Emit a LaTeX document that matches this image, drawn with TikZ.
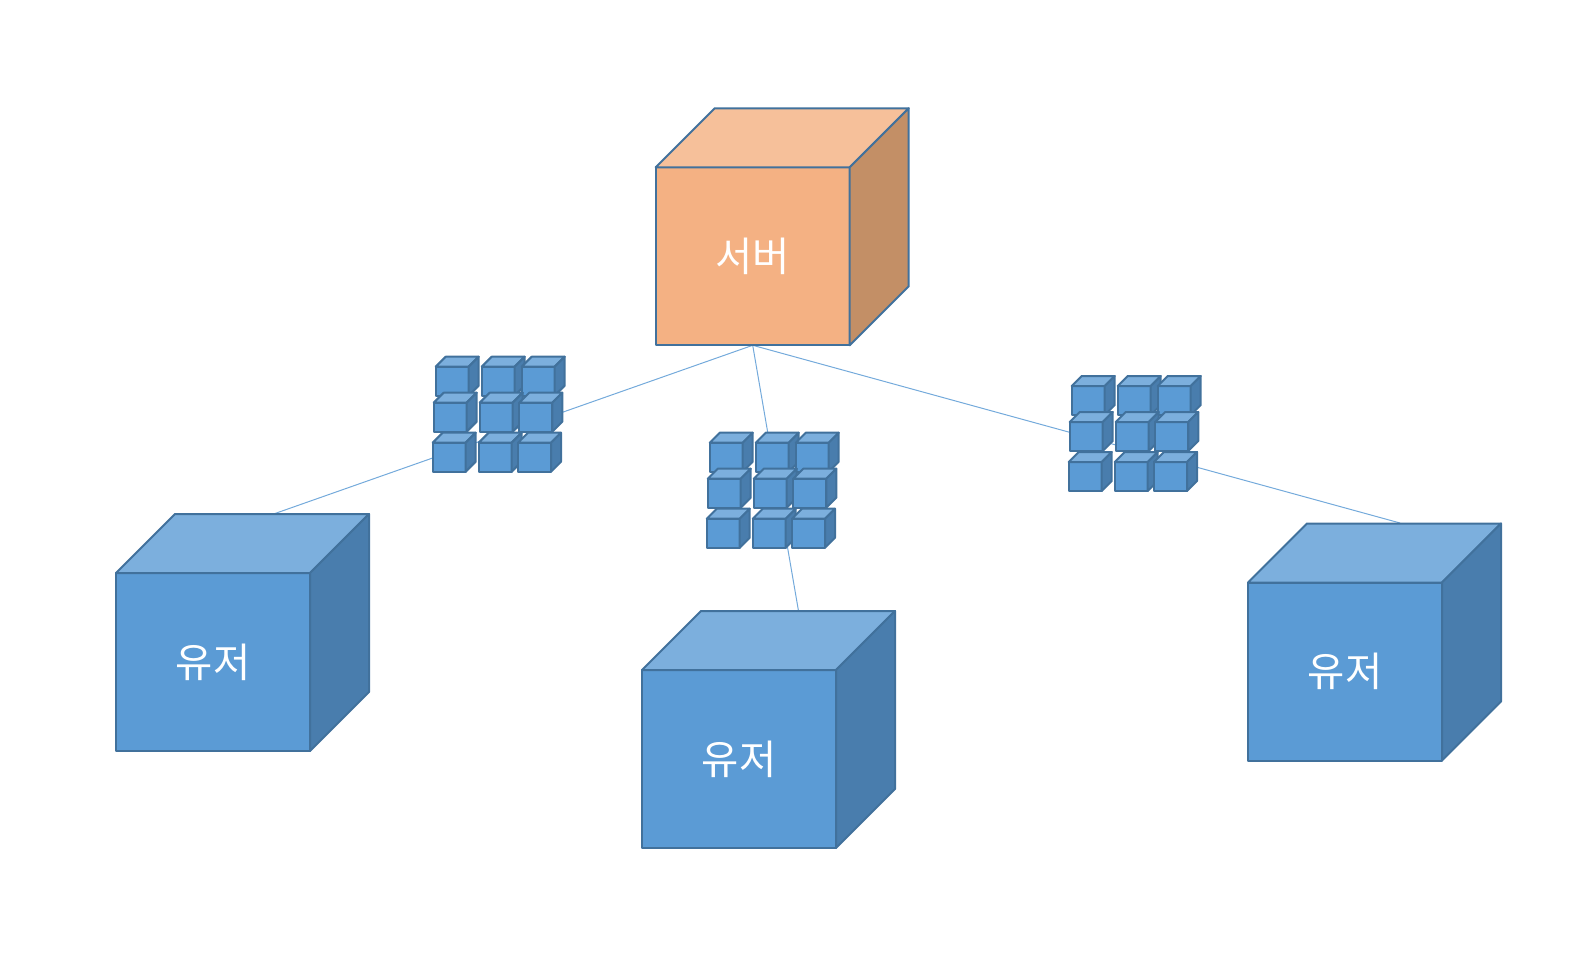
\documentclass[tikz,border=0pt]{standalone}
\usepackage{fontspec}
\newfontfamily\korfont{Noto Sans CJK KR}
\usetikzlibrary{backgrounds}
\definecolor{bluefront}{HTML}{5B9BD5}
\definecolor{bluetop}{HTML}{7CAFDD}
\definecolor{blueside}{HTML}{497DAD}
\definecolor{orangefront}{HTML}{F4B183}
\definecolor{orangetop}{HTML}{F6C09A}
\definecolor{orangeside}{HTML}{C38F66}
\definecolor{cubeline}{HTML}{41719C}
\tikzset{
    cubeface/.style={draw=cubeline, line width=2pt, line join=round, rectangle, anchor=north west,
        inner sep=0pt, outer sep=0pt, text=white, font=\korfont\fontsize{40.5}{44}\selectfont},
    cubeedge/.style={draw=cubeline, line width=2pt, line join=round},
    wire/.style={draw=bluefront!85, line width=1pt}
}
% colour, name, x, y, width, height, depth, text
\newcommand{\drawcube}[8]{
    \node[cubeface, fill=#1front, minimum width=#5pt, minimum height=#6pt] (#2) at (#3,#4) {#8};
    \path[cubeedge, fill=#1top] (#2.north west) -- ++(#7,-#7) -- ++(#5,0) -- (#2.north east) -- cycle;
    \path[cubeedge, fill=#1side] (#2.north east) -- ++(#7,-#7) -- ++(0,#6) -- (#2.south east) -- cycle;
}
\begin{document}
\begin{tikzpicture}[x=1pt, y=-1pt]
    \useasboundingbox (0,0) rectangle (1594,976);
    % big cubes
    \drawcube{orange}{srv}{655.7}{167.3}{194}{178}{59}{서버}
    \drawcube{blue}{usrl}{116}{573}{194}{178}{59}{유저}
    \drawcube{blue}{usrc}{642}{670}{194}{178}{59}{유저}
    \drawcube{blue}{usrr}{1248}{582.5}{194}{178}{59}{유저}
    % small cube groups
    \foreach \gx/\gy/\g in {0/0/a, 274/76/b, 636/19.3/c} {
        \foreach \cx/\cy/\n in {435.7/366.7/1, 481.7/366.7/2, 521.7/366.7/3,
                                433.7/402.7/4, 479.7/402.7/5, 519.3/402.7/6,
                                432.7/442.7/7, 478.7/442.7/8, 518/442.7/9} {
            \drawcube{blue}{pkt\g\n}{\cx+\gx}{\cy+\gy}{33}{29}{10}{}
        }
    }
    % connectors
    \coordinate (usrltop) at (275,513.5);
    \coordinate (usrctop) at (798.5,611);
    \coordinate (usrrtop) at (1400,523);
    \begin{scope}[on background layer]
        \draw[wire] (srv.south) -- (usrltop);
        \draw[wire] (srv.south) -- (usrctop);
        \draw[wire] (srv.south) -- (usrrtop);
    \end{scope}
\end{tikzpicture}
\end{document}
